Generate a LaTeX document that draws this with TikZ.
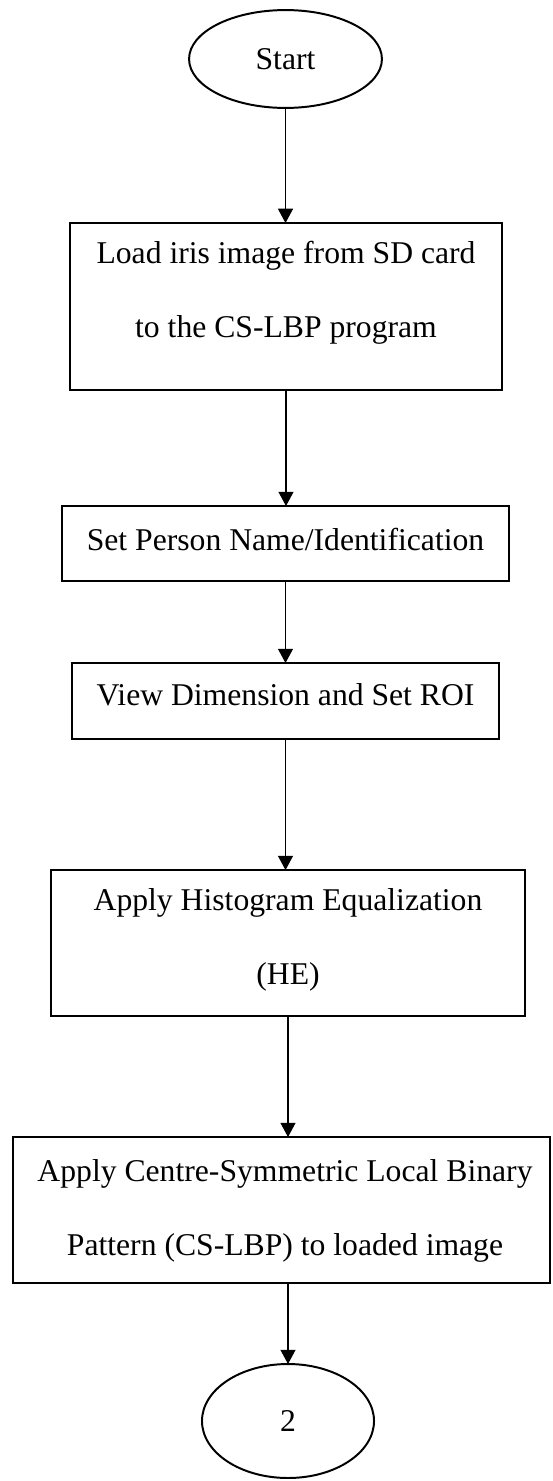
\documentclass[tikz,border=0pt]{standalone}
\usepackage{fontspec}
\setmainfont{Liberation Serif}
\usetikzlibrary{shapes.geometric,arrows.meta}
\begin{document}
\begin{tikzpicture}[x=0.379pt,y=-0.379pt,
  font=\fontsize{12}{28}\selectfont,
  boxnode/.style={draw,line width=0.75pt,rectangle,inner sep=0pt,outer sep=0pt},
  ovalnode/.style={draw,line width=0.75pt,ellipse,inner sep=0pt,outer sep=0pt},
  txt/.style={inner sep=0pt,anchor=base},
  arr/.style={line width=0.4pt,-{Triangle[length=5.4pt,width=5.7pt]}}]
\useasboundingbox (0,0) rectangle (552,1481);
\node[ovalnode,minimum width=73.1pt,minimum height=37.1pt] (start) at (285.5,59) {Start};
\node[boxnode,minimum width=163.7pt,minimum height=63.3pt] (b1) at (286,306.5) {};
\node[txt] (t1a) at (286,263) {Load iris image from SD card};
\node[txt] (t1b) at (286,337) {to the CS-LBP program};
\node[boxnode,minimum width=169.4pt,minimum height=28.4pt] (b2) at (285.5,543.5) {};
\node[txt] (t2) at (285.5,550) {Set Person Name/Identification};
\node[boxnode,minimum width=161.8pt,minimum height=28.8pt] (b3) at (285.5,701) {};
\node[txt] (t3) at (285.5,705) {View Dimension and Set ROI};
\node[boxnode,minimum width=179.6pt,minimum height=55.3pt] (b4) at (288,943) {};
\node[txt] (t4a) at (288,910) {Apply Histogram Equalization};
\node[txt] (t4b) at (288,984) {(HE)};
\node[boxnode,minimum width=203.5pt,minimum height=55.3pt] (b5) at (281.5,1210) {};
\node[txt] (t5a) at (285,1181) {Apply Centre-Symmetric Local Binary};
\node[txt] (t5b) at (285,1255) {Pattern (CS-LBP) to loaded image};
\node[ovalnode,minimum width=65.2pt,minimum height=43.2pt] (end) at (288,1421) {2};
\draw[arr] (start.south) -- (start.south |- b1.north);
\draw[arr] (b1.south) -- (b1.south |- b2.north);
\draw[arr] (b2.south) -- (b2.south |- b3.north);
\draw[arr] (b3.south) -- (b3.south |- b4.north);
\draw[arr] (b4.south) -- (b4.south |- b5.north);
\draw[arr] (b5.south -| end.north) -- (end.north);
\end{tikzpicture}
\end{document}
